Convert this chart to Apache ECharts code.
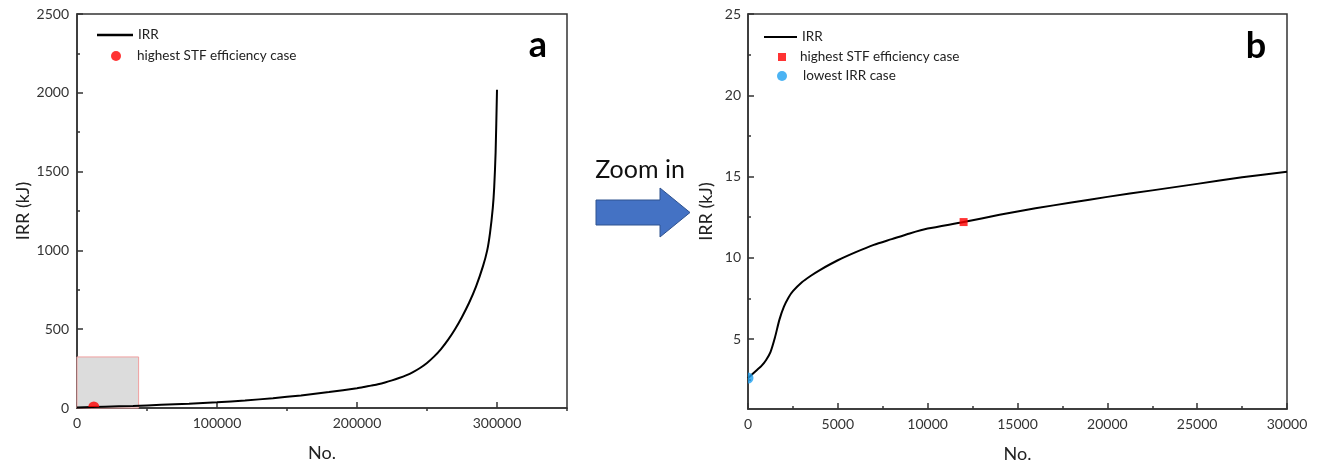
<!DOCTYPE html>
<html>
<head>
<meta charset="utf-8">
<script src="https://cdn.jsdelivr.net/npm/echarts@6/dist/echarts.min.js"></script>
<style>
html, body { margin: 0; background: #fff; }
#main { width: 1320px; height: 468px; }
</style>
</head>
<body>
<div id="main"></div>
<script>
// ▼ panel a: whole range
const aNoA = [0, 20000, 40000, 60000, 80000, 100000, 120000, 140000, 160000, 180000, 200000, 205000, 210000, 215000, 220000, 225000, 230000, 235000, 240000, 245000, 250000, 255000, 260000, 265000, 270000, 275000, 280000, 285000, 290000, 293000, 295000, 297000, 298000, 299000, 300000];
const aIrrA = [3, 8, 13, 20, 27, 36, 48, 62, 80, 101, 125, 133, 142, 151, 162, 175, 190, 207, 228, 254, 286, 326, 374, 432, 500, 578, 666, 770, 900, 1000, 1110, 1270, 1400, 1620, 2020];
// ▼ panel b: zoomed range
const aNoB = [0, 250, 500, 750, 1000, 1250, 1500, 1750, 2000, 2250, 2500, 3000, 3500, 4000, 5000, 6000, 7000, 8000, 9000, 10000, 12000, 14000, 16000, 18000, 20000, 22500, 25000, 27500, 30000];
const aIrrB = [2.6, 2.85, 3.1, 3.35, 3.7, 4.2, 5.1, 6.2, 7.0, 7.55, 7.95, 8.5, 8.9, 9.25, 9.85, 10.35, 10.8, 11.15, 11.5, 11.8, 12.2, 12.65, 13.05, 13.4, 13.75, 14.15, 14.55, 14.95, 15.3];
const aBest = [12000, 12.2];     // highest STF efficiency case
const aLowest = [0, 2.6];        // lowest IRR case
const aZoomBox = [[0, 0], [44000, 324]];
const aTickB = [5, 10, 15, 20, 25];
const aMinorB = [2.5, 7.5, 12.5, 17.5, 22.5];
const aLabelXA = [0, 100000, 200000, 300000];
const aMinorXA = [50000, 150000, 250000, 350000];

const FONT = 'Lato';
const C_AXIS = '#333';
const LINE_ICON = 'path://M0,0H60V4H0Z';

const zip = (xs, ys) => xs.map((x, i) => [x, ys[i]]);
const plain = v => String(v); // no thousands separator

const axisBase = {
    axisLine: { show: true, onZero: false, lineStyle: { color: C_AXIS, width: 1.5 } },
    axisTick: { show: true, inside: true, length: 6, lineStyle: { color: C_AXIS, width: 1.5 } },
    minorTick: { show: true, splitNumber: 2, length: 3, lineStyle: { color: C_AXIS, width: 1.5 } },
    splitLine: { show: false },
    axisLabel: { color: C_AXIS, fontSize: 14, fontFamily: FONT, margin: 8, formatter: plain },
    nameTextStyle: { color: '#222', fontSize: 18, fontFamily: FONT },
    nameLocation: 'middle',
};
const minorOnly = (extra) => Object.assign({
    type: 'value',
    axisLine: { show: false },
    axisLabel: { show: false },
    splitLine: { show: false },
}, extra);

const legendBase = {
    orient: 'horizontal', padding: 0, selectedMode: false,
    textStyle: { color: '#222', fontSize: 13.5, fontFamily: FONT },
};
const shifted = (px) => ({ color: '#222', fontSize: 13.5, fontFamily: FONT, padding: [0, 0, 0, px] });

const myChart = echarts.init(document.getElementById('main'));
const option = {
    animation: false,
    backgroundColor: '#fff',
    grid: [
        { left: 77, top: 14, width: 490, height: 394, show: true, borderColor: C_AXIS, borderWidth: 1.5, backgroundColor: 'transparent' },
        { left: 748, top: 14, width: 539, height: 398, show: true, borderColor: C_AXIS, borderWidth: 1.5, backgroundColor: 'transparent' },
    ],
    xAxis: [
        Object.assign({}, axisBase, {
            gridIndex: 0, type: 'value', min: 0, max: 350000, name: 'No.', nameGap: 36,
            axisTick: Object.assign({}, axisBase.axisTick, { customValues: aLabelXA }),
            axisLabel: Object.assign({}, axisBase.axisLabel, { customValues: aLabelXA }),
            minorTick: { show: false },
        }),
        Object.assign({}, axisBase, {
            gridIndex: 1, type: 'value', min: 0, max: 30000, interval: 5000, name: 'No.', nameGap: 36,
        }),
        minorOnly({ gridIndex: 0, min: 0, max: 350000, axisTick: { show: true, inside: true, length: 3, customValues: aMinorXA, lineStyle: { color: C_AXIS, width: 1.5 } } }),
    ],
    yAxis: [
        Object.assign({}, axisBase, {
            gridIndex: 0, type: 'value', min: 0, max: 2500, interval: 500, name: 'IRR (kJ)', nameGap: 40,
        }),
        Object.assign({}, axisBase, {
            gridIndex: 1, type: 'value', min: 0.7, max: 25, name: 'IRR (kJ)', nameGap: 33,
            axisTick: Object.assign({}, axisBase.axisTick, { customValues: aTickB }),
            axisLabel: Object.assign({}, axisBase.axisLabel, { customValues: aTickB, margin: 7 }),
            minorTick: { show: false },
        }),
        minorOnly({ gridIndex: 1, min: 0.7, max: 25, position: 'left', axisTick: { show: true, inside: true, length: 3, customValues: aMinorB, lineStyle: { color: C_AXIS, width: 1.5 } } }),
    ],
    legend: [
        Object.assign({}, legendBase, { left: 97, top: 28, itemWidth: 36, itemHeight: 12, data: [{ name: 'IRR', icon: LINE_ICON, itemStyle: { color: '#000' } }] }),
        Object.assign({}, legendBase, { left: 111, top: 49, itemWidth: 10, itemHeight: 10, textStyle: shifted(11), data: [{ name: 'highest STF efficiency case', icon: 'circle', itemStyle: { color: '#ff0000' } }] }),
        Object.assign({}, legendBase, { left: 764, top: 30, itemWidth: 33, itemHeight: 12, data: [{ name: 'IRR', icon: LINE_ICON, itemStyle: { color: '#000' } }] }),
        Object.assign({}, legendBase, { left: 778, top: 50, itemWidth: 8, itemHeight: 8, textStyle: shifted(9), data: [{ name: 'highest STF efficiency case', icon: 'path://M0,0H10V10H0Z', itemStyle: { color: '#ff0000' } }] }),
        Object.assign({}, legendBase, { left: 777, top: 69, itemWidth: 10, itemHeight: 10, textStyle: shifted(11), data: [{ name: 'lowest IRR case', icon: 'circle', itemStyle: { color: '#1ea0f0' } }] }),
    ],
    series: [
        {
            name: 'IRR', type: 'line', xAxisIndex: 0, yAxisIndex: 0,
            data: zip(aNoA, aIrrA), symbol: 'none', smooth: 0.25,
            lineStyle: { color: '#000', width: 2 }, itemStyle: { color: '#000' },
            markArea: {
                silent: true,
                itemStyle: { color: '#dcdcdc', borderColor: '#f0a0a0', borderWidth: 1 },
                data: [[{ coord: aZoomBox[0] }, { coord: aZoomBox[1] }]],
            },
            z: 3,
        },
        {
            name: 'highest STF efficiency case', type: 'scatter', xAxisIndex: 0, yAxisIndex: 0,
            data: [aBest], symbol: 'path://M0,10 A10,10 0 0 1 20,10 Z', symbolSize: [11, 5.5], symbolOffset: [0, '-35%'],
            itemStyle: { color: '#ff0000' }, z: 4,
        },
        {
            name: 'IRR', type: 'line', xAxisIndex: 1, yAxisIndex: 1,
            data: zip(aNoB, aIrrB), symbol: 'none', smooth: 0.25,
            lineStyle: { color: '#000', width: 2 }, itemStyle: { color: '#000' }, z: 3,
        },
        {
            name: 'highest STF efficiency case', type: 'scatter', xAxisIndex: 1, yAxisIndex: 1,
            data: [aBest], symbol: 'rect', symbolSize: 8,
            itemStyle: { color: '#ff0000' }, z: 4,
        },
        {
            name: 'lowest IRR case', type: 'scatter', xAxisIndex: 1, yAxisIndex: 1,
            data: [aLowest], symbol: 'path://M0,0 A10,10 0 0 1 0,20 Z', symbolSize: [5.5, 11], symbolOffset: ['50%', 0],
            itemStyle: { color: '#1ea0f0' }, z: 4,
        },
    ],
    graphic: [
        { type: 'text', x: 538, y: 45, style: { text: 'a', font: 'bold 36px Lato', fill: '#000', align: 'center', verticalAlign: 'middle' } },
        { type: 'text', x: 1256, y: 46, style: { text: 'b', font: 'bold 36px Lato', fill: '#000', align: 'center', verticalAlign: 'middle' } },
        { type: 'text', x: 640, y: 170, style: { text: 'Zoom in', font: '25px Lato', fill: '#111', align: 'center', verticalAlign: 'middle' } },
        {
            type: 'polygon',
            shape: { points: [[596, 200], [660, 200], [660, 188], [690, 212.5], [660, 237], [660, 225], [596, 225]] },
            style: { fill: '#4472c4', stroke: '#2f528f', lineWidth: 1 },
        },
    ],
};
myChart.setOption(option);
</script>
</body>
</html>
